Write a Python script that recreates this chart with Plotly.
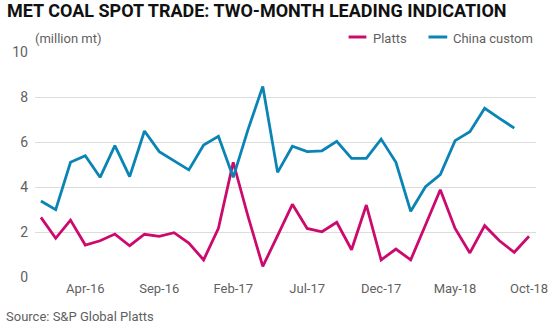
import plotly.graph_objects as go
import pandas as pd

months = [d.strftime("%b-%y") for d in pd.date_range("2016-01-01", "2018-10-01", freq="MS")]

platts = [2.65, 1.72, 2.53, 1.42, 1.61, 1.91, 1.39, 1.90, 1.81, 1.97, 1.51, 0.76,
          2.16, 5.10, 2.70, 0.47, 1.84, 3.23, 2.16, 2.01, 2.43, 1.21, 3.20, 0.76,
          1.24, 0.76, 2.31, 3.88, 2.16, 1.07, 2.28, 1.61, 1.10, 1.81]
china = [3.38, 2.99, 5.10, 5.39, 4.43, 5.84, 4.46, 6.49, 5.57, 5.17, 4.76, 5.87,
         6.25, 4.43, 6.55, 8.47, 4.65, 5.81, 5.57, 5.61, 6.03, 5.27, 5.27, 6.13,
         5.10, 2.92, 4.01, 4.55, 6.06, 6.46, 7.50, 7.05, 6.62]

tick_labels = ["Apr-16", "Sep-16", "Feb-17", "Jul-17", "Dec-17", "May-18", "Oct-18"]
y_ticks = [0, 2, 4, 6, 8, 10]

PINK = "#cc0a6e"
BLUE = "#0a84b4"
GRAY = "#5f5f5f"

W, H = 560, 324
L, R, T, B = 30, 22, 52, 47
pw, ph = W - L - R, H - T - B

def px(x, y):
    return (x - L) / pw, (H - B - y) / ph

fig = go.Figure()
fig.add_trace(go.Scatter(x=months, y=platts, mode="lines", name="Platts",
                         line=dict(color=PINK, width=2.8), showlegend=False))
fig.add_trace(go.Scatter(x=months[:len(china)], y=china, mode="lines", name="China custom",
                         line=dict(color=BLUE, width=2.8), showlegend=False))

font_main = "Roboto"
ann = []
tx, ty = px(0, 11)
ann.append(dict(text="<b>MET COAL SPOT TRADE: TWO-MONTH LEADING INDICATION</b>", x=tx, y=ty,
                xref="paper", yref="paper", xanchor="left", yanchor="middle", showarrow=False,
                font=dict(family="Roboto", size=18, color="#111111")))
sx, sy = px(28, 38)
ann.append(dict(text="(million mt)", x=sx, y=sy, xref="paper", yref="paper", xanchor="left",
                yanchor="middle", showarrow=False, font=dict(family=font_main, size=13, color=GRAY)))
for lx0, lx1, tx0, label, col in [(348, 366, 371, "Platts", PINK), (429, 448, 452, "China custom", BLUE)]:
    a, b_ = px(lx0, 37)
    c, _ = px(lx1, 37)
    fig.add_shape(type="line", xref="paper", yref="paper", x0=a, x1=c, y0=b_, y1=b_,
                  line=dict(color=col, width=3))
    t0, tyy = px(tx0, 38)
    ann.append(dict(text=label, x=t0, y=tyy, xref="paper", yref="paper", xanchor="left",
                    yanchor="middle", showarrow=False, font=dict(family=font_main, size=13, color=GRAY)))
srcx, srcy = px(-1, 316)
ann.append(dict(text="Source: S&P Global Platts", x=srcx, y=srcy, xref="paper", yref="paper",
                xanchor="left", yanchor="middle", showarrow=False,
                font=dict(family=font_main, size=13, color=GRAY)))

fig.update_layout(
    width=W, height=H, margin=dict(l=L, r=R, t=T, b=B),
    paper_bgcolor="white", plot_bgcolor="white",
    annotations=ann,
    xaxis=dict(type="category", range=[-0.4, len(months) - 1 + 0.47], tickvals=tick_labels,
               ticktext=tick_labels, showgrid=False, zeroline=False, showline=False, ticks="",
               tickfont=dict(family=font_main, size=13, color=GRAY), ticklabelstandoff=2),
    yaxis=dict(range=[0, 10], tickvals=y_ticks, showgrid=True, gridcolor="#dcdcdc", gridwidth=1,
               zeroline=False, showline=False, ticks="",
               tickfont=dict(family=font_main, size=14, color=GRAY), ticklabelstandoff=6),
)

fig.write_html("out.html")
